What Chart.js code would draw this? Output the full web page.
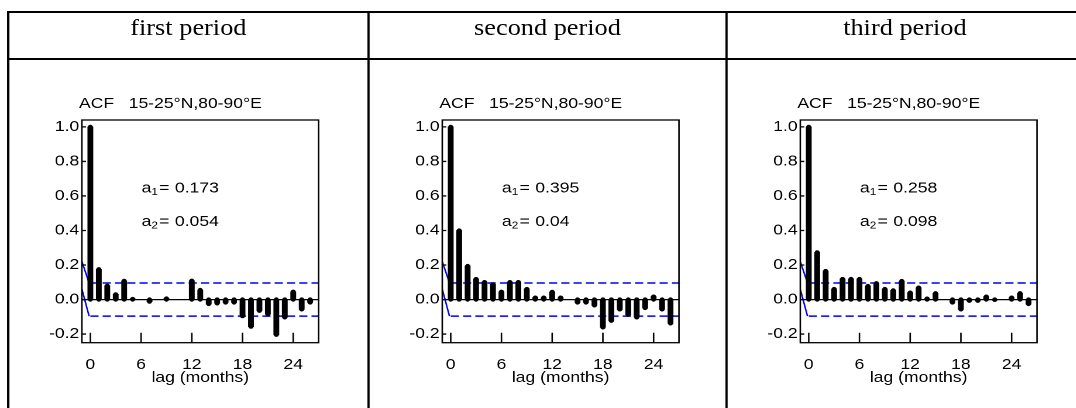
<!DOCTYPE html>
<html>
<head>
<meta charset="utf-8">
<title>ACF 15-25°N,80-90°E</title>
<script src="https://cdn.jsdelivr.net/npm/chart.js@4.4.0/dist/chart.umd.min.js"></script>
<style>
  html, body { margin: 0; padding: 0; background: #fff; width: 1076px; height: 408px; overflow: hidden; }
  /* the original figure is a little wider than tall, so everything is stretched sideways */
  #page { position: absolute; left: 0; top: 0; width: 930px; height: 408px; transform: scaleX(1.17); transform-origin: 0 0; }
  .hline { position: absolute; left: 6px; width: 930px; height: 2px; background: #000; }
  .vline { position: absolute; top: 11px; height: 400px; width: 1.7px; background: #000; }
  .head { position: absolute; top: 13px; height: 45px; line-height: 30px; text-align: center;
          font-family: "Liberation Serif", "Times New Roman", serif; font-size: 22.5px; color: #000; }
  .cell { position: absolute; top: 75px; width: 285px; height: 330px; }
</style>
</head>
<body>
<div id="page">
  <div class="hline" style="top:11px"></div>
  <div class="hline" style="top:58px"></div>
  <div class="vline" style="left:6px"></div>
  <div class="vline" style="left:314.4px"></div>
  <div class="vline" style="left:619.9px"></div>
  <div class="head" id="head0" style="left:6.8px;width:308.4px"></div>
  <div class="head" id="head1" style="left:315.2px;width:305.5px"></div>
  <div class="head" id="head2" style="left:620.7px;width:305.5px"></div>
  <div class="cell" style="left:10.1px"><canvas id="acf0"></canvas></div>
  <div class="cell" style="left:317.5px"><canvas id="acf1"></canvas></div>
  <div class="cell" style="left:624.4px"><canvas id="acf2"></canvas></div>
</div>
<script>
// data
const periodNames = ['first period', 'second period', 'third period'];
const lags = [0, 1, 2, 3, 4, 5, 6, 7, 8, 9, 10, 11, 12, 13, 14, 15, 16, 17, 18, 19, 20, 21, 22, 23, 24, 25, 26];
const acfFirst = [1.0, 0.175, 0.08, 0.03, 0.108, 0.003, null, -0.012, null, 0.006, null, null, 0.109, 0.055,
    -0.026, -0.022, -0.017, -0.017, -0.096, -0.157, -0.065, -0.085, -0.204, -0.103, 0.045, -0.057, -0.017];
const acfSecond = [1.0, 0.40, 0.194, 0.119, 0.101, 0.088, 0.045, 0.101, 0.101, 0.061, 0.011, 0.011, 0.044, 0.011,
    null, -0.017, -0.017, -0.034, -0.161, -0.123, -0.057, -0.088, -0.103, -0.049, 0.017, -0.057, -0.138];
const acfThird = [1.0, 0.273, 0.165, 0.061, 0.119, 0.119, 0.119, 0.078, 0.094, 0.061, 0.053, 0.107, 0.04, 0.069,
    0.005, 0.036, null, -0.017, -0.057, -0.007, -0.007, 0.017, -0.002, null, 0.011, 0.036, -0.026];
const a1Values = ['0.173', '0.395', '0.258'];
const a2Values = ['0.054', '0.04', '0.098'];
const xTickLabels = [0, 6, 12, 18, 24];
const yTickValues = [-0.2, 0, 0.2, 0.4, 0.6, 0.8, 1.0];
const confLevel = [0.096, -0.096];
const leadX = [-1, -0.15];
const leadUpper = [0.22, 0.096];
const leadLower = [0.06, -0.096];

Chart.defaults.font.family = '"Liberation Sans", Arial, sans-serif';
Chart.defaults.font.size = 15;
Chart.defaults.color = '#000';

document.addEventListener('DOMContentLoaded', function() {
    periodNames.forEach((name, i) => {
        document.getElementById('head' + i).textContent = name;
    });

    // box, inward ticks and the texts inside each panel
    const panelDecor = {
        id: 'panelDecor',
        afterDraw(chart, args, opts) {
            const ctx = chart.ctx;
            const a = chart.chartArea;
            const xs = chart.scales.x;
            const ys = chart.scales.y;
            ctx.save();
            ctx.strokeStyle = '#000';
            ctx.lineWidth = 1.3;
            ctx.strokeRect(a.left, a.top, a.right - a.left, a.bottom - a.top);
            ctx.beginPath();
            xTickLabels.forEach(v => {
                const px = xs.getPixelForValue(v);
                ctx.moveTo(px, a.bottom);
                ctx.lineTo(px, a.bottom - 10);
            });
            yTickValues.forEach(v => {
                const py = ys.getPixelForValue(v);
                ctx.moveTo(a.left, py);
                ctx.lineTo(a.left + 3.5, py);
            });
            ctx.stroke();

            ctx.fillStyle = '#000';
            ctx.textBaseline = 'middle';
            ctx.font = '15px "Liberation Sans", Arial, sans-serif';
            ctx.fillText('ACF   15-25°N,80-90°E', a.left - 2.5, a.top - 16);

            const x0 = a.left + 51;
            [[ '1', opts.a1, 68.3 ], [ '2', opts.a2, 101.7 ]].forEach(([sub, val, dy]) => {
                const y = a.top + dy;
                ctx.font = '15px "Liberation Sans", Arial, sans-serif';
                ctx.fillText('a', x0, y);
                ctx.fillText('=', x0 + 15, y);
                ctx.fillText(val, x0 + 28.5, y);
                ctx.font = '10px "Liberation Sans", Arial, sans-serif';
                ctx.fillText(sub, x0 + 8.4, y + 4);
            });
            ctx.restore();
        }
    };

    function makeChart(id, acf, a1, a2) {
        const el = document.getElementById(id);
        if (!el) return;
        const bars = lags.map((l, i) => ({ x: l, y: acf[i] }));
        const bases = lags.map((l, i) => ({ x: l, y: acf[i] === null ? null : 0 }));
        const capStyle = {
            type: 'line', showLine: false, pointRadius: 2.15, pointBackgroundColor: '#000',
            pointBorderWidth: 0, pointHoverRadius: 2.15
        };
        const blue = '#0000f0';

        new Chart(el, {
            type: 'bar',
            data: {
                datasets: [
                    { type: 'bar', data: bars, backgroundColor: '#000', barThickness: 4.3, order: 0 },
                    { ...capStyle, data: bars, order: 1 },
                    { ...capStyle, data: bases, order: 2 },
                    { type: 'line', data: [{ x: 0, y: confLevel[0] }, { x: 27, y: confLevel[0] }],
                      borderColor: blue, borderWidth: 1.5, borderDash: [7, 3.5], pointRadius: 0, order: 3 },
                    { type: 'line', data: [{ x: 0, y: confLevel[1] }, { x: 27, y: confLevel[1] }],
                      borderColor: blue, borderWidth: 1.5, borderDash: [7, 3.5], pointRadius: 0, order: 4 },
                    { type: 'line', data: leadX.map((x, i) => ({ x: x, y: leadUpper[i] })),
                      borderColor: blue, borderWidth: 1.3, pointRadius: 0, order: 5 },
                    { type: 'line', data: leadX.map((x, i) => ({ x: x, y: leadLower[i] })),
                      borderColor: blue, borderWidth: 1.3, pointRadius: 0, order: 6 }
                ]
            },
            options: {
                responsive: true,
                maintainAspectRatio: false,
                animation: false,
                devicePixelRatio: 2,
                events: [],
                layout: { padding: { top: 45, right: 22.7, bottom: 0, left: 0 } },
                plugins: {
                    legend: { display: false },
                    tooltip: { enabled: false },
                    panelDecor: { a1: a1, a2: a2 }
                },
                scales: {
                    x: {
                        type: 'linear', min: -1, max: 27, offset: false,
                        afterBuildTicks: s => { s.ticks = xTickLabels.map(v => ({ value: v })); },
                        afterFit: s => { s.height = 62.3; },
                        grid: { display: false, drawTicks: false },
                        border: { display: false },
                        ticks: { padding: 13, maxRotation: 0, autoSkip: false, color: '#000' },
                        title: { display: true, text: 'lag (months)', color: '#000', padding: { top: 0, bottom: 18 } }
                    },
                    y: {
                        min: -0.25, max: 1.04,
                        afterBuildTicks: s => { s.ticks = yTickValues.map(v => ({ value: v })); },
                        afterFit: s => { s.width = 60; },
                        grid: {
                            drawTicks: false, lineWidth: 1.3,
                            color: c => (c.tick && Math.abs(c.tick.value) < 1e-9) ? '#000' : 'rgba(0,0,0,0)'
                        },
                        border: { display: false },
                        ticks: { padding: 2.3, color: '#000', callback: v => v.toFixed(1) }
                    }
                }
            },
            plugins: [panelDecor]
        });
    }

    makeChart('acf0', acfFirst, a1Values[0], a2Values[0]);
    makeChart('acf1', acfSecond, a1Values[1], a2Values[1]);
    makeChart('acf2', acfThird, a1Values[2], a2Values[2]);
});
</script>
</body>
</html>
